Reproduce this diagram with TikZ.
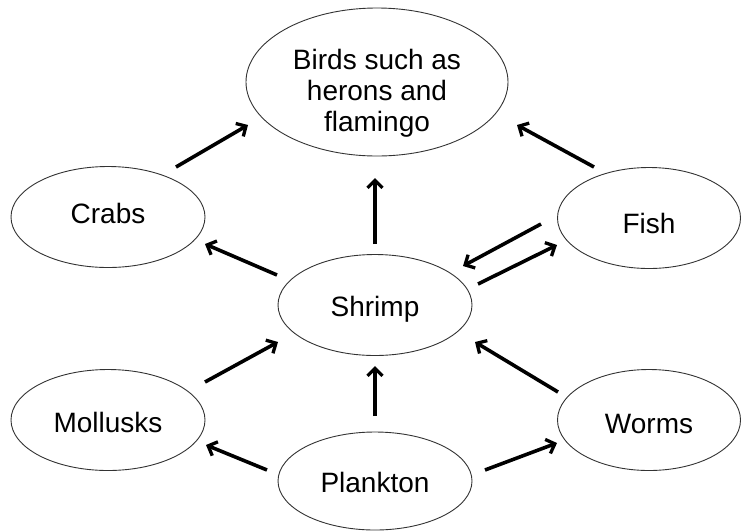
\documentclass[tikz,border=0pt]{standalone}
\usepackage{fontspec}
\setmainfont{Liberation Sans}
\usetikzlibrary{shapes.geometric,arrows.meta}
\newcommand{\lowtxt}[2][-3pt]{\raisebox{#1}[\height][\depth]{\begin{tabular}{@{}c@{}}#2\end{tabular}}}
\begin{document}
\begin{tikzpicture}[x=1pt,y=-1pt,
  eln/.style={ellipse,draw=black!80,line width=0.9pt,inner sep=0pt,
    minimum width=194pt,minimum height=101pt,align=center,
    font=\fontsize{28}{31}\selectfont},
  arr/.style={line width=3.6pt,-{Straight Barb[length=7.5pt,width=15pt,line width=3.3pt]}}]
\useasboundingbox (0,0) rectangle (744,531);
\node[eln,minimum width=262pt,minimum height=148pt] (birds) at (377,82) {\lowtxt[-12pt]{Birds such as\\herons and\\flamingo}};
\node[eln] (crabs) at (108,217) {\lowtxt[0pt]{Crabs}};
\node[eln,minimum width=183pt] (fish) at (649,218) {\lowtxt[-9pt]{Fish}};
\node[eln] (shrimp) at (375,305) {\lowtxt[-5pt]{Shrimp}};
\node[eln] (mollusks) at (108,420) {\lowtxt[-6pt]{Mollusks}};
\node[eln,minimum width=183pt] (worms) at (649,420) {\lowtxt[-7pt]{Worms}};
\node[eln,minimum height=98pt] (plankton) at (375,481) {\lowtxt[-5pt]{Plankton}};
% arrow end points
\coordinate (cbT) at (176,167); \coordinate (cbH) at (248,125);
\coordinate (sbT) at (375,244); \coordinate (sbH) at (375,178);
\coordinate (fbT) at (594,167); \coordinate (fbH) at (517,125);
\coordinate (scT) at (277,275); \coordinate (scH) at (205,244);
\coordinate (fsT) at (541,224); \coordinate (fsH) at (463,266);
\coordinate (sfT) at (478,284); \coordinate (sfH) at (557,245);
\coordinate (msT) at (205,382); \coordinate (msH) at (278,342);
\coordinate (psT) at (375,416); \coordinate (psH) at (375,366);
\coordinate (wsT) at (558,392); \coordinate (wsH) at (475,342);
\coordinate (pmT) at (267,470); \coordinate (pmH) at (206,445);
\coordinate (pwT) at (485,470); \coordinate (pwH) at (557,443);
\draw[arr] (cbT) -- (cbH);
\draw[arr] (sbT) -- (sbH);
\draw[arr] (fbT) -- (fbH);
\draw[arr] (scT) -- (scH);
\draw[arr] (fsT) -- (fsH);
\draw[arr] (sfT) -- (sfH);
\draw[arr] (msT) -- (msH);
\draw[arr] (psT) -- (psH);
\draw[arr] (wsT) -- (wsH);
\draw[arr] (pmT) -- (pmH);
\draw[arr] (pwT) -- (pwH);
\end{tikzpicture}
\end{document}
